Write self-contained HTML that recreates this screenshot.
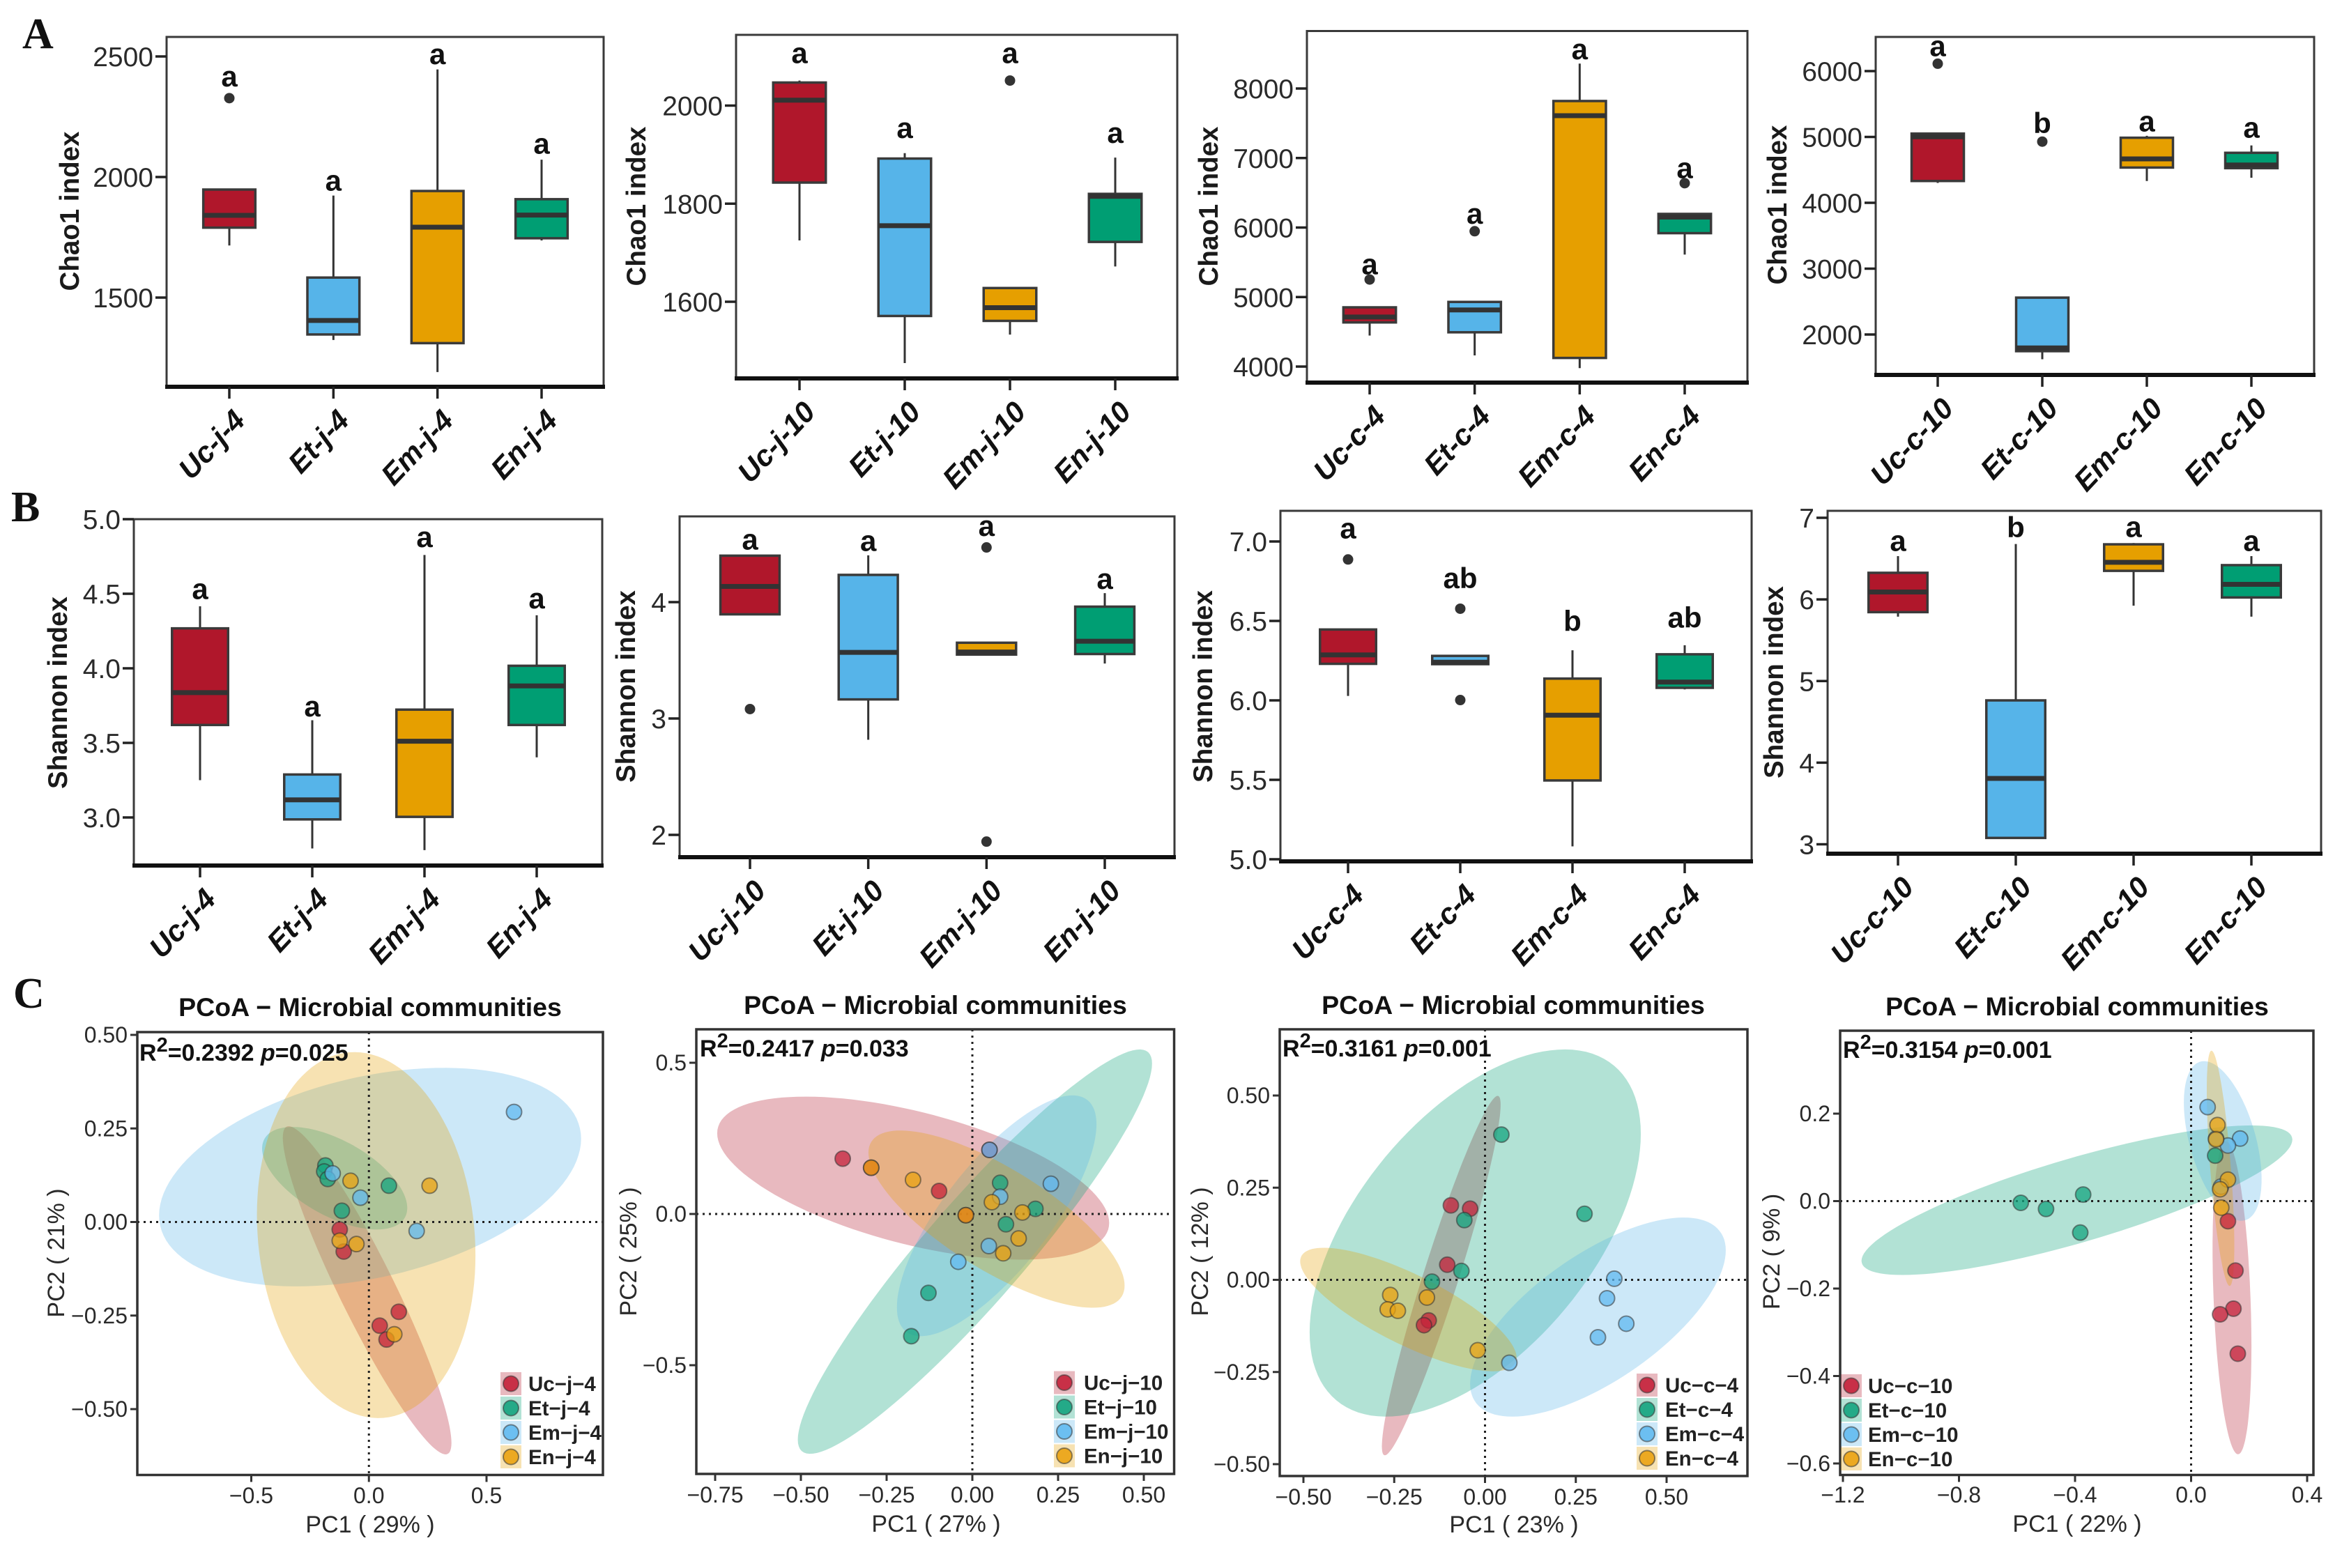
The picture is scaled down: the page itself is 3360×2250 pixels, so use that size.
<!DOCTYPE html>
<html lang="en">
<head>
<meta charset="utf-8">
<title>Alpha diversity and PCoA panels</title>
<style>
html,body{margin:0;padding:0;background:#fff;width:3360px;height:2250px;overflow:hidden}
svg{display:block}
text{font-family:"Liberation Sans",sans-serif}
.panel-letter{font-family:"Liberation Serif",serif;font-weight:bold;font-size:62px;fill:#111}
.y-title{font-weight:bold;font-size:38.5px;fill:#1a1a1a;text-anchor:middle}
.pcoa-title{font-weight:bold;font-size:37.5px;fill:#111;text-anchor:middle}
.r2{font-weight:bold;font-size:34px;fill:#111}
.r2 .sup{font-size:29px}
.r2 .it{font-style:italic}
.pc-title{font-size:34px;fill:#2a2a2a;text-anchor:middle}
</style>
</head>
<body>
<svg id="figure" xmlns="http://www.w3.org/2000/svg" width="3360" height="2250" viewBox="0 0 3360 2250">
<rect x="0" y="0" width="3360" height="2250" fill="#fff"/>
<text class="panel-letter" x="32" y="69">A</text>
<text class="panel-letter" x="16" y="748">B</text>
<text class="panel-letter" x="19" y="1446">C</text>

<text class="y-title" transform="translate(113 303) rotate(-90)">Chao1 index</text>
<text class="y-title" transform="translate(926 296) rotate(-90)">Chao1 index</text>
<text class="y-title" transform="translate(1747 296) rotate(-90)">Chao1 index</text>
<text class="y-title" transform="translate(2563 294) rotate(-90)">Chao1 index</text>
<text class="y-title" transform="translate(96 994) rotate(-90)">Shannon index</text>
<text class="y-title" transform="translate(911 985) rotate(-90)">Shannon index</text>
<text class="y-title" transform="translate(1739 985) rotate(-90)">Shannon index</text>
<text class="y-title" transform="translate(2558 979) rotate(-90)">Shannon index</text>

<text class="pcoa-title" x="531" y="1458">PCoA − Microbial communities</text>
<text class="pcoa-title" x="1342" y="1455">PCoA − Microbial communities</text>
<text class="pcoa-title" x="2171" y="1455">PCoA − Microbial communities</text>
<text class="pcoa-title" x="2980" y="1457">PCoA − Microbial communities</text>

<g id="marks"></g>

<text class="r2" x="200" y="1522">R<tspan class="sup" dy="-13">2</tspan><tspan dy="13">=0.2392 </tspan><tspan class="it">p</tspan>=0.025</text>
<text class="r2" x="1004" y="1516">R<tspan class="sup" dy="-13">2</tspan><tspan dy="13">=0.2417 </tspan><tspan class="it">p</tspan>=0.033</text>
<text class="r2" x="1840" y="1516">R<tspan class="sup" dy="-13">2</tspan><tspan dy="13">=0.3161 </tspan><tspan class="it">p</tspan>=0.001</text>
<text class="r2" x="2644" y="1518">R<tspan class="sup" dy="-13">2</tspan><tspan dy="13">=0.3154 </tspan><tspan class="it">p</tspan>=0.001</text>

<text class="pc-title" x="531" y="2199">PC1 ( 29% )</text>
<text class="pc-title" x="1343" y="2198">PC1 ( 27% )</text>
<text class="pc-title" x="2172" y="2199">PC1 ( 23% )</text>
<text class="pc-title" x="2980" y="2198">PC1 ( 22% )</text>
<text class="pc-title" transform="translate(92 1798) rotate(-90)">PC2 ( 21% )</text>
<text class="pc-title" transform="translate(913 1796) rotate(-90)">PC2 ( 25% )</text>
<text class="pc-title" transform="translate(1733 1796) rotate(-90)">PC2 ( 12% )</text>
<text class="pc-title" transform="translate(2553 1796) rotate(-90)">PC2 ( 9% )</text>
</svg>

<script>
/* ---------- categories ---------- */
const catsJ4 = ['Uc-j-4', 'Et-j-4', 'Em-j-4', 'En-j-4'];
const catsJ10 = ['Uc-j-10', 'Et-j-10', 'Em-j-10', 'En-j-10'];
const catsC4 = ['Uc-c-4', 'Et-c-4', 'Em-c-4', 'En-c-4'];
const catsC10 = ['Uc-c-10', 'Et-c-10', 'Em-c-10', 'En-c-10'];
const legendJ4 = ['Uc−j−4', 'Et−j−4', 'Em−j−4', 'En−j−4'];
const legendJ10 = ['Uc−j−10', 'Et−j−10', 'Em−j−10', 'En−j−10'];
const legendC4 = ['Uc−c−4', 'Et−c−4', 'Em−c−4', 'En−c−4'];
const legendC10 = ['Uc−c−10', 'Et−c−10', 'Em−c−10', 'En−c−10'];

/* ---------- Chao1, j-4 ---------- */
const chaoJ4Ticks = [1500, 2000, 2500];
const chaoJ4TickLabels = ['1500', '2000', '2500'];
const chaoJ4Low = [1716, 1324, 1191, 1737];
const chaoJ4Q1 = [1790, 1347, 1311, 1746];
const chaoJ4Median = [1841, 1405, 1792, 1842];
const chaoJ4Q3 = [1948, 1583, 1942, 1908];
const chaoJ4High = [1948, 1923, 2446, 2072];
const chaoJ4Outliers = [[2327], [], [], []];
const chaoJ4Letters = ['a', 'a', 'a', 'a'];
const chaoJ4LetterAt = [2410, 1979, 2503, 2131];

/* ---------- Chao1, j-10 ---------- */
const chaoJ10Ticks = [1600, 1800, 2000];
const chaoJ10TickLabels = ['1600', '1800', '2000'];
const chaoJ10Low = [1725, 1475, 1533, 1672];
const chaoJ10Q1 = [1843, 1571, 1561, 1722];
const chaoJ10Median = [2011, 1755, 1588, 1815];
const chaoJ10Q3 = [2047, 1892, 1628, 1820];
const chaoJ10High = [2051, 1903, 1628, 1894];
const chaoJ10Outliers = [[], [], [2051], []];
const chaoJ10Letters = ['a', 'a', 'a', 'a'];
const chaoJ10LetterAt = [2104, 1951, 2104, 1941];

/* ---------- Chao1, c-4 ---------- */
const chaoC4Ticks = [4000, 5000, 6000, 7000, 8000];
const chaoC4TickLabels = ['4000', '5000', '6000', '7000', '8000'];
const chaoC4Low = [4446, 4161, 3977, 5611];
const chaoC4Q1 = [4635, 4493, 4124, 5919];
const chaoC4Median = [4713, 4815, 7609, 6150];
const chaoC4Q3 = [4852, 4930, 7820, 6196];
const chaoC4High = [4852, 4930, 8359, 6196];
const chaoC4Outliers = [[5252], [5947], [], [6638]];
const chaoC4Letters = ['a', 'a', 'a', 'a'];
const chaoC4LetterAt = [5450, 6177, 8543, 6831];

/* ---------- Chao1, c-10 ---------- */
const chaoC10Ticks = [2000, 3000, 4000, 5000, 6000];
const chaoC10TickLabels = ['2000', '3000', '4000', '5000', '6000'];
const chaoC10Low = [4302, 1625, 4331, 4380];
const chaoC10Q1 = [4331, 1747, 4535, 4526];
const chaoC10Median = [5002, 1796, 4667, 4574];
const chaoC10Q3 = [5051, 2560, 4988, 4759];
const chaoC10High = [5051, 2560, 5017, 4871];
const chaoC10Outliers = [[6112], [4929], [], []];
const chaoC10Letters = ['a', 'b', 'a', 'a'];
const chaoC10LetterAt = [6355, 5187, 5212, 5114];

/* ---------- Shannon, j-4 ---------- */
const shanJ4Ticks = [3.0, 3.5, 4.0, 4.5, 5.0];
const shanJ4TickLabels = ['3.0', '3.5', '4.0', '4.5', '5.0'];
const shanJ4Low = [3.25, 2.792, 2.781, 3.403];
const shanJ4Q1 = [3.62, 2.987, 3.004, 3.62];
const shanJ4Median = [3.837, 3.118, 3.511, 3.882];
const shanJ4Q3 = [4.268, 3.288, 3.723, 4.017];
const shanJ4High = [4.416, 3.652, 4.76, 4.356];
const shanJ4Outliers = [[], [], [], []];
const shanJ4Letters = ['a', 'a', 'a', 'a'];
const shanJ4LetterAt = [4.52, 3.734, 4.87, 4.459];

/* ---------- Shannon, j-10 ---------- */
const shanJ10Ticks = [2, 3, 4];
const shanJ10TickLabels = ['2', '3', '4'];
const shanJ10Low = [3.895, 2.817, 3.549, 3.472];
const shanJ10Q1 = [3.895, 3.164, 3.549, 3.554];
const shanJ10Median = [4.135, 3.568, 3.571, 3.664];
const shanJ10Q3 = [4.399, 4.234, 3.651, 3.961];
const shanJ10High = [4.399, 4.402, 3.651, 4.077];
const shanJ10Outliers = [[3.081], [], [4.47, 1.942], []];
const shanJ10Letters = ['a', 'a', 'a', 'a'];
const shanJ10LetterAt = [4.523, 4.512, 4.641, 4.187];

/* ---------- Shannon, c-4 ---------- */
const shanC4Ticks = [5.0, 5.5, 6.0, 6.5, 7.0];
const shanC4TickLabels = ['5.0', '5.5', '6.0', '6.5', '7.0'];
const shanC4Low = [6.028, 6.228, 5.081, 6.069];
const shanC4Q1 = [6.23, 6.228, 5.496, 6.079];
const shanC4Median = [6.286, 6.24, 5.907, 6.115];
const shanC4Q3 = [6.446, 6.28, 6.137, 6.29];
const shanC4High = [6.446, 6.28, 6.315, 6.347];
const shanC4Outliers = [[6.887], [6.577, 6.002], [], []];
const shanC4Letters = ['a', 'ab', 'b', 'ab'];
const shanC4LetterAt = [7.073, 6.758, 6.488, 6.512];

/* ---------- Shannon, c-10 ---------- */
const shanC10Ticks = [3, 4, 5, 6, 7];
const shanC10TickLabels = ['3', '4', '5', '6', '7'];
const shanC10Low = [5.789, 3.078, 5.923, 5.789];
const shanC10Q1 = [5.844, 3.078, 6.35, 6.024];
const shanC10Median = [6.091, 3.807, 6.455, 6.185];
const shanC10Q3 = [6.326, 4.763, 6.675, 6.42];
const shanC10High = [6.53, 6.679, 6.69, 6.53];
const shanC10Outliers = [[], [], [], []];
const shanC10Letters = ['a', 'b', 'a', 'a'];
const shanC10LetterAt = [6.698, 6.863, 6.867, 6.698];

/* ---------- PCoA j-4 ---------- */
const pcoaJ4XTicks = [-0.5, 0, 0.5];
const pcoaJ4XTickLabels = ['−0.5', '0.0', '0.5'];
const pcoaJ4YTicks = [-0.5, -0.25, 0, 0.25, 0.5];
const pcoaJ4YTickLabels = ['−0.50', '−0.25', '0.00', '0.25', '0.50'];
const pcoaJ4PointsX = [
  [-0.124, -0.107, 0.046, 0.075, 0.127],
  [-0.185, -0.19, -0.175, -0.115, 0.085],
  [-0.154, -0.036, 0.203, 0.617],
  [-0.078, -0.124, -0.053, 0.108, 0.258]
];
const pcoaJ4PointsY = [
  [-0.02, -0.079, -0.277, -0.314, -0.24],
  [0.151, 0.135, 0.115, 0.03, 0.097],
  [0.13, 0.065, -0.024, 0.294],
  [0.11, -0.05, -0.059, -0.30, 0.097]
];
const pcoaJ4EllipseXMin = [-0.366, -0.454, -0.892, -0.476];
const pcoaJ4EllipseXMax = [0.351, 0.163, 0.902, 0.453];
const pcoaJ4EllipseYMin = [-0.621, -0.02, -0.172, -0.524];
const pcoaJ4EllipseYMax = [0.256, 0.254, 0.412, 0.454];
const pcoaJ4EllipseRho = [-0.93, -0.58, 0.35, -0.11];

/* ---------- PCoA j-10 ---------- */
const pcoaJ10XTicks = [-0.75, -0.5, -0.25, 0, 0.25, 0.5];
const pcoaJ10XTickLabels = ['−0.75', '−0.50', '−0.25', '0.00', '0.25', '0.50'];
const pcoaJ10YTicks = [-0.5, 0, 0.5];
const pcoaJ10YTickLabels = ['−0.5', '0.0', '0.5'];
const pcoaJ10PointsX = [
  [-0.378, -0.295, -0.097, 0.05, -0.019],
  [-0.178, -0.128, 0.098, 0.081, 0.184],
  [-0.041, 0.048, 0.081, 0.229, 0.05],
  [-0.295, -0.173, 0.057, 0.146, 0.135, 0.09, -0.019]
];
const pcoaJ10PointsY = [
  [0.183, 0.153, 0.076, 0.212, -0.004],
  [-0.404, -0.261, -0.034, 0.103, 0.017],
  [-0.158, -0.106, 0.057, 0.1, 0.212],
  [0.153, 0.113, 0.039, 0.005, -0.081, -0.13, -0.004]
];
const pcoaJ10EllipseXMin = [-0.744, -0.509, -0.22, -0.303];
const pcoaJ10EllipseXMax = [0.399, 0.524, 0.362, 0.444];
const pcoaJ10EllipseYMin = [-0.151, -0.793, -0.404, -0.31];
const pcoaJ10EllipseYMax = [0.388, 0.544, 0.392, 0.276];
const pcoaJ10EllipseRho = [-0.55, 0.93, 0.76, -0.75];

/* ---------- PCoA c-4 ---------- */
const pcoaC4XTicks = [-0.5, -0.25, 0, 0.25, 0.5];
const pcoaC4XTickLabels = ['−0.50', '−0.25', '0.00', '0.25', '0.50'];
const pcoaC4YTicks = [-0.5, -0.25, 0, 0.25, 0.5];
const pcoaC4YTickLabels = ['−0.50', '−0.25', '0.00', '0.25', '0.50'];
const pcoaC4PointsX = [
  [-0.094, -0.041, -0.104, -0.155, -0.168],
  [0.045, 0.274, -0.057, -0.065, -0.146],
  [0.356, 0.336, 0.389, 0.311, 0.067],
  [-0.261, -0.268, -0.24, -0.16, -0.02]
];
const pcoaC4PointsY = [
  [0.202, 0.193, 0.041, -0.11, -0.123],
  [0.394, 0.179, 0.162, 0.024, -0.005],
  [0.003, -0.05, -0.119, -0.156, -0.225],
  [-0.041, -0.08, -0.084, -0.048, -0.191]
];
const pcoaC4EllipseXMin = [-0.284, -0.483, -0.041, -0.509];
const pcoaC4EllipseXMax = [0.043, 0.429, 0.663, 0.087];
const pcoaC4EllipseYMin = [-0.476, -0.371, -0.371, -0.248];
const pcoaC4EllipseYMax = [0.499, 0.625, 0.169, 0.087];
const pcoaC4EllipseRho = [0.95, 0.54, 0.67, -0.78];

/* ---------- PCoA c-10 ---------- */
const pcoaC10XTicks = [-1.2, -0.8, -0.4, 0, 0.4];
const pcoaC10XTickLabels = ['−1.2', '−0.8', '−0.4', '0.0', '0.4'];
const pcoaC10YTicks = [-0.6, -0.4, -0.2, 0, 0.2];
const pcoaC10YTickLabels = ['−0.6', '−0.4', '−0.2', '0.0', '0.2'];
const pcoaC10PointsX = [
  [0.127, 0.153, 0.146, 0.1, 0.161],
  [-0.587, -0.5, -0.372, -0.382, 0.083],
  [0.057, 0.169, 0.127, 0.086, 0.103],
  [0.091, 0.086, 0.127, 0.1, 0.104]
];
const pcoaC10PointsY = [
  [-0.046, -0.159, -0.246, -0.259, -0.349],
  [-0.004, -0.018, 0.015, -0.072, 0.104],
  [0.215, 0.143, 0.127, 0.143, 0.033],
  [0.174, 0.141, 0.049, 0.027, -0.015]
];
const pcoaC10EllipseXMin = [0.074, -1.136, -0.025, 0.054];
const pcoaC10EllipseXMax = [0.208, 0.349, 0.243, 0.149];
const pcoaC10EllipseYMin = [-0.579, -0.169, -0.045, -0.194];
const pcoaC10EllipseYMax = [0.137, 0.173, 0.32, 0.344];
const pcoaC10EllipseRho = [-0.31, 0.81, -0.48, -0.66];

/* ---------- styling and layout ---------- */
const boxFill = ['#B0172B', '#56B4E9', '#E69F00', '#009E73'];
const pointFill = ['#C4213A', '#14A47F', '#62BAF0', '#EAA312'];
const ellipseFill = ['#B2182B', '#009E73', '#56B4E9', '#E69F00'];
const NS = 'http://www.w3.org/2000/svg';
const root = document.getElementById('marks');

function linear(d0, d1, r0, r1) {
  return function (v) { return r0 + (v - d0) * (r1 - r0) / (d1 - d0); };
}
function svgEl(tag, attrs, parent, txt) {
  const n = document.createElementNS(NS, tag);
  Object.keys(attrs).forEach(function (k) { n.setAttribute(k, attrs[k]); });
  if (txt !== undefined) n.textContent = txt;
  parent.appendChild(n);
  return n;
}

const boxPanels = [
  {id:'chao1-j4', cats:catsJ4, ticks:chaoJ4Ticks, labels:chaoJ4TickLabels, low:chaoJ4Low, q1:chaoJ4Q1, med:chaoJ4Median, q3:chaoJ4Q3, high:chaoJ4High, out:chaoJ4Outliers, letters:chaoJ4Letters, letterAt:chaoJ4LetterAt, l:239, r:866, t:53, b:555, x0:329, x3:777, y0:427, y1:81},
  {id:'chao1-j10', cats:catsJ10, ticks:chaoJ10Ticks, labels:chaoJ10TickLabels, low:chaoJ10Low, q1:chaoJ10Q1, med:chaoJ10Median, q3:chaoJ10Q3, high:chaoJ10High, out:chaoJ10Outliers, letters:chaoJ10Letters, letterAt:chaoJ10LetterAt, l:1056, r:1689, t:50, b:543, x0:1147, x3:1600, y0:433, y1:151.5},
  {id:'chao1-c4', cats:catsC4, ticks:chaoC4Ticks, labels:chaoC4TickLabels, low:chaoC4Low, q1:chaoC4Q1, med:chaoC4Median, q3:chaoC4Q3, high:chaoC4High, out:chaoC4Outliers, letters:chaoC4Letters, letterAt:chaoC4LetterAt, l:1875, r:2507, t:44.5, b:549, x0:1965, x3:2417, y0:526, y1:127},
  {id:'chao1-c10', cats:catsC10, ticks:chaoC10Ticks, labels:chaoC10TickLabels, low:chaoC10Low, q1:chaoC10Q1, med:chaoC10Median, q3:chaoC10Q3, high:chaoC10High, out:chaoC10Outliers, letters:chaoC10Letters, letterAt:chaoC10LetterAt, l:2691, r:3320, t:53, b:538, x0:2780, x3:3230, y0:480, y1:102},
  {id:'shannon-j4', cats:catsJ4, ticks:shanJ4Ticks, labels:shanJ4TickLabels, low:shanJ4Low, q1:shanJ4Q1, med:shanJ4Median, q3:shanJ4Q3, high:shanJ4High, out:shanJ4Outliers, letters:shanJ4Letters, letterAt:shanJ4LetterAt, l:192, r:864, t:745, b:1242, x0:287, x3:770, y0:1173, y1:745},
  {id:'shannon-j10', cats:catsJ10, ticks:shanJ10Ticks, labels:shanJ10TickLabels, low:shanJ10Low, q1:shanJ10Q1, med:shanJ10Median, q3:shanJ10Q3, high:shanJ10High, out:shanJ10Outliers, letters:shanJ10Letters, letterAt:shanJ10LetterAt, l:975, r:1685, t:741, b:1230, x0:1076, x3:1585, y0:1198, y1:864},
  {id:'shannon-c4', cats:catsC4, ticks:shanC4Ticks, labels:shanC4TickLabels, low:shanC4Low, q1:shanC4Q1, med:shanC4Median, q3:shanC4Q3, high:shanC4High, out:shanC4Outliers, letters:shanC4Letters, letterAt:shanC4LetterAt, l:1837, r:2513, t:733, b:1236, x0:1934, x3:2417, y0:1233, y1:777},
  {id:'shannon-c10', cats:catsC10, ticks:shanC10Ticks, labels:shanC10TickLabels, low:shanC10Low, q1:shanC10Q1, med:shanC10Median, q3:shanC10Q3, high:shanC10High, out:shanC10Outliers, letters:shanC10Letters, letterAt:shanC10LetterAt, l:2622, r:3330, t:733, b:1225, x0:2723, x3:3230, y0:1211.5, y1:743}
];

const pcoaPanels = [
  {id:'pcoa-j4', legend:legendJ4, xt:pcoaJ4XTicks, xl:pcoaJ4XTickLabels, yt:pcoaJ4YTicks, yl:pcoaJ4YTickLabels, px:pcoaJ4PointsX, py:pcoaJ4PointsY, ex0:pcoaJ4EllipseXMin, ex1:pcoaJ4EllipseXMax, ey0:pcoaJ4EllipseYMin, ey1:pcoaJ4EllipseYMax, rho:pcoaJ4EllipseRho, l:197, r:865, t:1481, b:2116.5, xr0:360.5, xr1:698, yr0:2022, yr1:1485, keyX:718, keyY:1969, textX:758, tickBase:2157},
  {id:'pcoa-j10', legend:legendJ10, xt:pcoaJ10XTicks, xl:pcoaJ10XTickLabels, yt:pcoaJ10YTicks, yl:pcoaJ10YTickLabels, px:pcoaJ10PointsX, py:pcoaJ10PointsY, ex0:pcoaJ10EllipseXMin, ex1:pcoaJ10EllipseXMax, ey0:pcoaJ10EllipseYMin, ey1:pcoaJ10EllipseYMax, rho:pcoaJ10EllipseRho, l:999, r:1684.5, t:1477, b:2115, xr0:1026, xr1:1641, yr0:1959, yr1:1525, keyX:1512, keyY:1967.5, textX:1555, tickBase:2156},
  {id:'pcoa-c4', legend:legendC4, xt:pcoaC4XTicks, xl:pcoaC4XTickLabels, yt:pcoaC4YTicks, yl:pcoaC4YTickLabels, px:pcoaC4PointsX, py:pcoaC4PointsY, ex0:pcoaC4EllipseXMin, ex1:pcoaC4EllipseXMax, ey0:pcoaC4EllipseYMin, ey1:pcoaC4EllipseYMax, rho:pcoaC4EllipseRho, l:1836, r:2507, t:1477, b:2118, xr0:1870, xr1:2391, yr0:2101, yr1:1572, keyX:2348, keyY:1971, textX:2389, tickBase:2159},
  {id:'pcoa-c10', legend:legendC10, xt:pcoaC10XTicks, xl:pcoaC10XTickLabels, yt:pcoaC10YTicks, yl:pcoaC10YTickLabels, px:pcoaC10PointsX, py:pcoaC10PointsY, ex0:pcoaC10EllipseXMin, ex1:pcoaC10EllipseXMax, ey0:pcoaC10EllipseYMin, ey1:pcoaC10EllipseYMax, rho:pcoaC10EllipseRho, l:2640, r:3319, t:1479, b:2116.5, xr0:2644, xr1:3310, yr0:2100, yr1:1598, keyX:2641, keyY:1972, textX:2680, tickBase:2156}
];

/* ---------- box plot panels ---------- */
boxPanels.forEach(function (p) {
  const g = svgEl('g', {}, root);
  
  
  const yScale = linear(p.ticks[0], p.ticks[p.ticks.length - 1], p.y0, p.y1);
  const step = (p.x3 - p.x0) / (p.cats.length - 1);
  const xScale = function (i) { return p.x0 + step * i; };
  const boxW = step * 0.5;

  const frame = svgEl('rect', {x:p.l, y:p.t, width:p.r - p.l, height:p.b - p.t, fill:'#fff', stroke:'#3a3a3a', 'stroke-width':3}, g);
  
  
  const xAxis = svgEl('line', {x1:p.l - 2, x2:p.r + 2, y1:p.b, y2:p.b, stroke:'#111', 'stroke-width':6}, g);
  
  

  p.ticks.forEach(function (v, i) {
    const tick = svgEl('line', {x1:p.l - 16, x2:p.l, y1:yScale(v), y2:yScale(v), stroke:'#222', 'stroke-width':3.5}, g);
    
    
    const lab = svgEl('text', {x:p.l - 19, y:yScale(v) + 14, 'text-anchor':'end', 'font-size':39, fill:'#2a2a2a'}, g, p.labels[i]);
    
    
  });

  p.cats.forEach(function (cat, i) {
    const cx = xScale(i);
    const tick = svgEl('line', {x1:cx, x2:cx, y1:p.b, y2:p.b + 17, stroke:'#222', 'stroke-width':3.5}, g);
    
    
    const lab = svgEl('text', {transform:'translate(' + (cx + 25) + ' ' + (p.b + 50) + ') rotate(-47)', 'text-anchor':'end', 'font-size':42, 'font-weight':'bold', 'font-style':'italic', fill:'#111'}, g, cat);
    
    

    const whisker = svgEl('line', {x1:cx, x2:cx, y1:yScale(p.high[i]), y2:yScale(p.low[i]), stroke:'#333', 'stroke-width':3}, g);
    
    
    const box = svgEl('rect', {x:cx - boxW / 2, y:yScale(p.q3[i]), width:boxW, height:yScale(p.q1[i]) - yScale(p.q3[i]), fill:boxFill[i], stroke:'#3a3a3a', 'stroke-width':3.5}, g);
    
    
    const median = svgEl('line', {x1:cx - boxW / 2, x2:cx + boxW / 2, y1:yScale(p.med[i]), y2:yScale(p.med[i]), stroke:'#333', 'stroke-width':7}, g);
    
    
    p.out[i].forEach(function (v) {
      const dot = svgEl('circle', {cx:cx, cy:yScale(v), r:7.5, fill:'#333'}, g);
      
      
    });
    const sig = svgEl('text', {x:cx, y:yScale(p.letterAt[i]) + 12, 'text-anchor':'middle', 'font-size':42, 'font-weight':'bold', fill:'#111'}, g, p.letters[i]);
    
    
  });
});

/* ---------- PCoA panels ---------- */
pcoaPanels.forEach(function (p) {
  const g = svgEl('g', {}, root);
  
  
  const xScale = linear(p.xt[0], p.xt[p.xt.length - 1], p.xr0, p.xr1);
  const yScale = linear(p.yt[0], p.yt[p.yt.length - 1], p.yr0, p.yr1);

  p.ex0.forEach(function (x0, i) {
    const cx = (x0 + p.ex1[i]) / 2;
    const cy = (p.ey0[i] + p.ey1[i]) / 2;
    const rx = (p.ex1[i] - x0) / 2;
    const ry = (p.ey1[i] - p.ey0[i]) / 2;
    const delta = Math.acos(p.rho[i]);
    let d = '';
    for (let k = 0; k < 120; k++) {
      const a = k / 120 * 2 * Math.PI;
      d += (k ? 'L' : 'M') + xScale(cx + rx * Math.cos(a)).toFixed(1) + ' ' + yScale(cy + ry * Math.cos(a - delta)).toFixed(1);
    }
    const el = svgEl('path', {d:d + 'Z', fill:ellipseFill[i], 'fill-opacity':0.3}, g);
    
    
  });

  const vZero = svgEl('line', {x1:xScale(0), x2:xScale(0), y1:p.t, y2:p.b, stroke:'#222', 'stroke-width':3, 'stroke-dasharray':'3 6'}, g);
  
  
  const hZero = svgEl('line', {x1:p.l, x2:p.r, y1:yScale(0), y2:yScale(0), stroke:'#222', 'stroke-width':3, 'stroke-dasharray':'3 6'}, g);
  
  

  p.px.forEach(function (xs, i) {
    xs.forEach(function (x, j) {
      const dot = svgEl('circle', {cx:xScale(x), cy:yScale(p.py[i][j]), r:11, fill:pointFill[i], 'fill-opacity':0.75, stroke:'#333', 'stroke-opacity':0.55, 'stroke-width':2}, g);
      
      
    });
  });

  const frame = svgEl('rect', {x:p.l, y:p.t, width:p.r - p.l, height:p.b - p.t, fill:'none', stroke:'#333', 'stroke-width':3.5}, g);
  
  

  p.xt.forEach(function (v, i) {
    const tick = svgEl('line', {x1:xScale(v), x2:xScale(v), y1:p.b, y2:p.b + 10, stroke:'#333', 'stroke-width':3}, g);
    
    
    const lab = svgEl('text', {x:xScale(v), y:p.tickBase, 'text-anchor':'middle', 'font-size':32, fill:'#2a2a2a'}, g, p.xl[i]);
    
    
  });
  p.yt.forEach(function (v, i) {
    const tick = svgEl('line', {x1:p.l - 10, x2:p.l, y1:yScale(v), y2:yScale(v), stroke:'#333', 'stroke-width':3}, g);
    
    
    const lab = svgEl('text', {x:p.l - 14, y:yScale(v) + 11, 'text-anchor':'end', 'font-size':32, fill:'#2a2a2a'}, g, p.yl[i]);
    
    
  });

  p.legend.forEach(function (name, i) {
    const top = p.keyY + i * 35;
    const key = svgEl('rect', {x:p.keyX, y:top, width:30, height:33, fill:ellipseFill[i], 'fill-opacity':0.3}, g);
    
    
    const dot = svgEl('circle', {cx:p.keyX + 15, cy:top + 16.5, r:11, fill:pointFill[i], 'fill-opacity':0.9, stroke:'#333', 'stroke-opacity':0.55, 'stroke-width':2}, g);
    
    
    const lab = svgEl('text', {x:p.textX, y:top + 27, 'font-size':29.5, 'font-weight':'bold', fill:'#222'}, g, name);
    
    
  });
});
</script>
</body>
</html>
